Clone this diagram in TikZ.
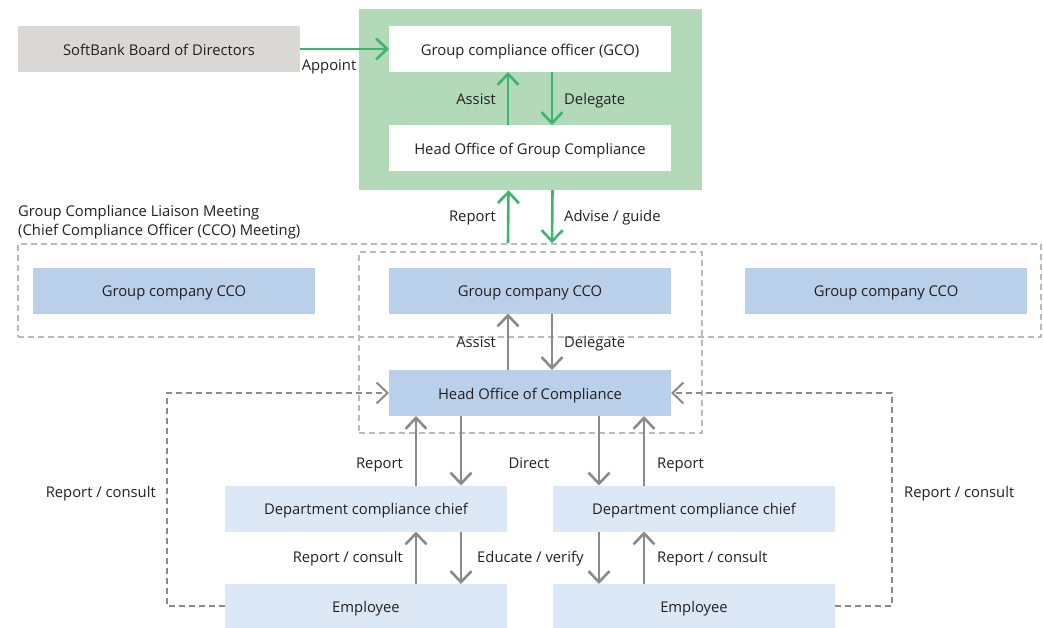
\documentclass[tikz,border=0pt]{standalone}
\usepackage{fontspec}
\setmainfont{Open Sans}
\usetikzlibrary{arrows.meta}
\definecolor{txtgray}{HTML}{231F20}
\definecolor{sbgreen}{HTML}{3DB56E}
\definecolor{sbgreenfill}{HTML}{B3DAB8}
\definecolor{boardgray}{HTML}{D9D8D6}
\definecolor{ccoblue}{HTML}{B9CFEA}
\definecolor{deptblue}{HTML}{DDE8F6}
\definecolor{arrowgray}{HTML}{8A8A8A}
\definecolor{framegray}{HTML}{BBBBBB}

\begin{document}
\begin{tikzpicture}[x=1pt,y=-1pt,
		font=\fontsize{14.8}{18.5}\selectfont,text=txtgray,
		unit/.style={minimum width=282pt,minimum height=46pt,inner sep=0pt,outer sep=0pt,text height=15pt,text depth=3pt},
		lbl/.style={inner sep=0pt,text height=14pt,text depth=3pt},
		frame/.style={draw=framegray,line width=1.8pt,dash pattern=on 6pt off 4pt,inner sep=0pt},
		greenarrow/.style={draw=sbgreen,line width=2.6pt,-{Straight Barb[length=11pt,width=21pt,line width=2.6pt]}},
		grayarrow/.style={draw=arrowgray,line width=2.6pt,-{Straight Barb[length=11pt,width=21pt,line width=2.6pt]}},
		dasharrow/.style={draw=arrowgray,line width=2pt,dash pattern=on 6pt off 4pt,-{Straight Barb[length=11pt,width=21pt,line width=2pt]}}]
	\useasboundingbox (0,0) rectangle (1043,627);
	\node[fill=sbgreenfill,minimum width=343pt,minimum height=181pt,inner sep=0pt] (gcoarea) at (530.5,99.5) {};
	\node[frame,minimum width=1023pt,minimum height=93pt] (liaison) at (529.5,290.5) {};
	\node[frame,minimum width=343pt,minimum height=181pt] (hocarea) at (530.5,342.5) {};
	\node[unit,fill=boardgray] (board) at (159,49) {SoftBank Board of Directors};
	\node[unit,fill=white] (gco) at (530,49) {Group compliance officer (GCO)};
	\node[unit,fill=white] (hogc) at (530,148) {Head Office of Group Compliance};
	\node[unit,fill=ccoblue] (ccoleft) at (174,290.5) {Group company CCO};
	\node[unit,fill=ccoblue] (ccomid) at (530,290.5) {Group company CCO};
	\node[unit,fill=ccoblue] (ccoright) at (886,290.5) {Group company CCO};
	\node[unit,fill=ccoblue] (hoc) at (530,393) {Head Office of Compliance};
	\node[unit,fill=deptblue] (deptleft) at (366,508.5) {Department compliance chief};
	\node[unit,fill=deptblue] (deptright) at (694,508.5) {Department compliance chief};
	\node[unit,fill=deptblue,minimum height=44pt] (empleft) at (366,606) {Employee};
	\node[unit,fill=deptblue,minimum height=44pt] (empright) at (694,606) {Employee};
	\node[anchor=west,align=left,inner sep=0pt] (liaisonlabel) at (18,222) {Group Compliance Liaison Meeting\\(Chief Compliance Officer (CCO) Meeting)};
	\draw[greenarrow] (board.east) -- (gco.west);
	\draw[greenarrow] ([xshift=-22pt]hogc.north) -- ([xshift=-22pt]gco.south);
	\draw[greenarrow] ([xshift=22pt]gco.south) -- ([xshift=22pt]hogc.north);
	\draw[greenarrow] ([xshift=-22pt]liaison.north -| ccomid) -- ([xshift=-22pt]gcoarea.south);
	\draw[greenarrow] ([xshift=22pt]gcoarea.south) -- ([xshift=22pt]liaison.north -| ccomid);
	\draw[grayarrow] ([xshift=-22pt]hoc.north) -- ([xshift=-22pt]ccomid.south);
	\draw[grayarrow] ([xshift=22pt]ccomid.south) -- ([xshift=22pt]hoc.north);
	\draw[grayarrow] ([xshift=50pt]deptleft.north) -- ([xshift=50pt]deptleft.north |- hoc.south);
	\draw[grayarrow] ([xshift=95pt]deptleft.north |- hoc.south) -- ([xshift=95pt]deptleft.north);
	\draw[grayarrow] ([xshift=-50pt]deptright.north) -- ([xshift=-50pt]deptright.north |- hoc.south);
	\draw[grayarrow] ([xshift=-95pt]deptright.north |- hoc.south) -- ([xshift=-95pt]deptright.north);
	\draw[grayarrow] ([xshift=50pt]empleft.north) -- ([xshift=50pt]deptleft.south);
	\draw[grayarrow] ([xshift=95pt]deptleft.south) -- ([xshift=95pt]empleft.north);
	\draw[grayarrow] ([xshift=-50pt]empright.north) -- ([xshift=-50pt]deptright.south);
	\draw[grayarrow] ([xshift=-95pt]deptright.south) -- ([xshift=-95pt]empright.north);
	\draw[dasharrow] (empleft.west) -- ++(-58,0) |- (hoc.west);
	\draw[dasharrow] (empright.east) -- ++(57,0) |- (hoc.east);
	\node[lbl] (appoint) at (329,65) {Appoint};
	\node[lbl,anchor=east] (gcoassist) at (496,99) {Assist};
	\node[lbl,anchor=west] (gcodelegate) at (564,99) {Delegate};
	\node[lbl,anchor=east] (gcoreport) at (496,216) {Report};
	\node[lbl,anchor=west] (gcoadvise) at (564,216) {Advise / guide};
	\node[lbl,anchor=east] (hocassist) at (496,342) {Assist};
	\node[lbl,anchor=west] (hocdelegate) at (564,342) {Delegate};
	\node[lbl,anchor=east] (reportleft) at (403,463) {Report};
	\node[lbl] (direct) at (529,463) {Direct};
	\node[lbl,anchor=west] (reportright) at (657,463) {Report};
	\node[lbl,anchor=east] (consultleft) at (403,557) {Report / consult};
	\node[lbl,anchor=west] (educate) at (477,557) {Educate / verify};
	\node[lbl,anchor=west] (consultright) at (657,557) {Report / consult};
	\node[lbl,anchor=east] (outerleft) at (156,492) {Report / consult};
	\node[lbl,anchor=west] (outerright) at (904,492) {Report / consult};
\end{tikzpicture}
\end{document}
